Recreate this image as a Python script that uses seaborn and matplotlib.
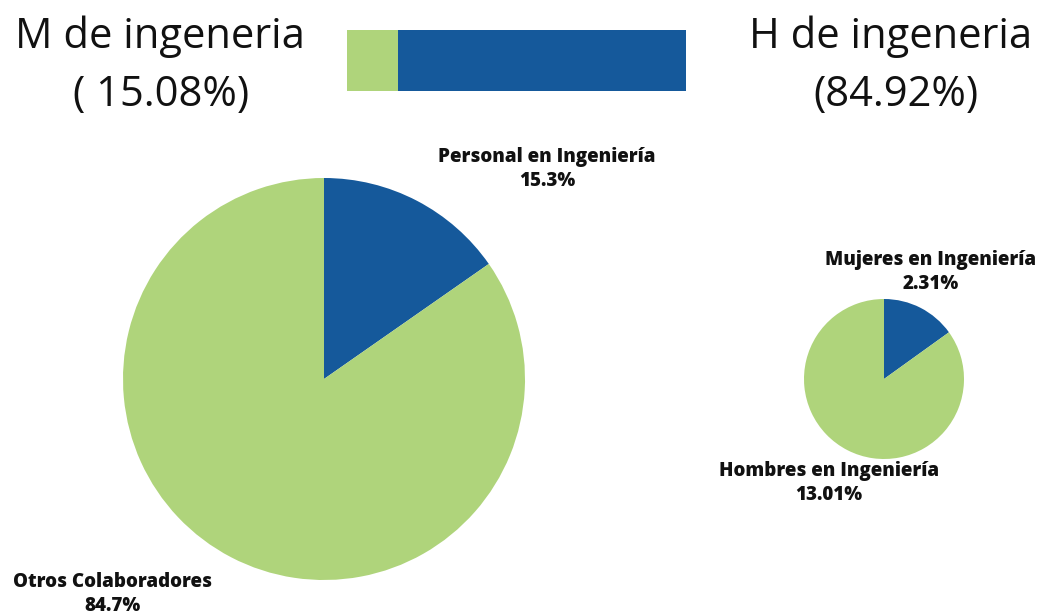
import matplotlib
matplotlib.use("Agg")
import matplotlib.pyplot as plt
import seaborn as sns
import pandas as pd

# data
total_labels = ["Personal en Ingeniería", "Otros Colaboradores"]
total_values = [15.3, 84.7]
eng_labels = ["Mujeres en Ingeniería", "Hombres en Ingeniería"]
eng_values = [2.31, 13.01]
share_labels = ["M de ingeneria", "H de ingeneria"]
share_values = [15.08, 84.92]

BLUE = "#15599B"
GREEN = "#AFD47B"
W, H = 1050, 616

sns.set_style("white")
plt.rcParams["font.family"] = ["Open Sans", "DejaVu Sans"]

fig = plt.figure(figsize=(W / 100, H / 100), dpi=100)


def px(x, y):
    return x / W, 1 - y / H


def add_pie(rect, values):
    ax = fig.add_axes(rect)
    ax.pie(values, colors=[BLUE, GREEN], startangle=90, counterclock=False,
           radius=1, wedgeprops=dict(linewidth=0))
    ax.set_xlim(-1, 1)
    ax.set_ylim(-1, 1)
    ax.set_aspect("auto")
    ax.axis("off")
    return ax


# big pie: everyone vs engineering staff
add_pie([123 / W, (H - 580) / H, 402 / W, 402 / H], total_values)
# small pie: engineering staff by gender
add_pie([804 / W, (H - 459) / H, 160 / W, 160 / H], eng_values)

# stacked bar on top
bar_ax = fig.add_axes([347 / W, (H - 91) / H, 339 / W, 61 / H])
df = pd.DataFrame({"grupo": ["g"], "total": [sum(share_values)], "m": [share_values[0]]})
sns.barplot(data=df, x="total", y="grupo", color=BLUE, width=1, saturation=1,
            ax=bar_ax, linewidth=0)
sns.barplot(data=df, x="m", y="grupo", color=GREEN, width=1, saturation=1,
            ax=bar_ax, linewidth=0)
bar_ax.set_xlim(0, sum(share_values))
bar_ax.set_ylim(0.5, -0.5)
bar_ax.axis("off")

# titles around the bar
title_kw = dict(fontsize=30, ha="center", va="center", color="#111111", fontweight="normal")
fig.text(*px(160, 37), share_labels[0], **title_kw)
fig.text(*px(161, 95), f"( {share_values[0]:.2f}%)", **title_kw)
fig.text(*px(891, 37), share_labels[1], **title_kw)
fig.text(*px(896, 95), f"({share_values[1]:.2f}%)", **title_kw)

# pie labels
lab_kw = dict(fontsize=13.5, ha="center", va="center", color="#111111", fontweight="heavy",
              linespacing=1.3)
fig.text(*px(547, 169), f"{total_labels[0]}\n{total_values[0]}%", **lab_kw)
fig.text(*px(112, 594), f"{total_labels[1]}\n{total_values[1]}%", **lab_kw)
fig.text(*px(931, 272), f"{eng_labels[0]}\n{eng_values[0]:.2f}%", **lab_kw)
fig.text(*px(829, 483), f"{eng_labels[1]}\n{eng_values[1]:.2f}%", **lab_kw)

fig.savefig("out.png", dpi=100)
